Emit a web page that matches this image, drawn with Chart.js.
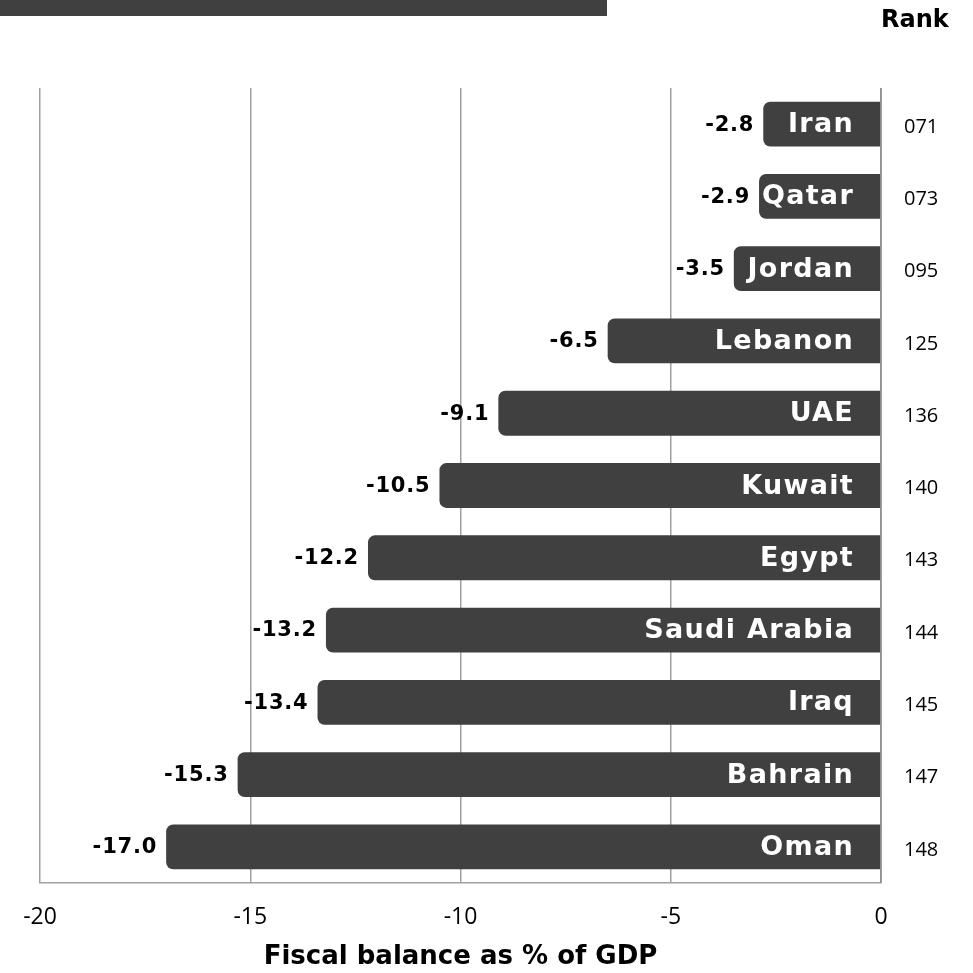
<!DOCTYPE html>
<html>
<head>
<meta charset="utf-8">
<script src="https://cdn.jsdelivr.net/npm/chart.js@4.4.0/dist/chart.umd.min.js"></script>
<style>
  html, body { margin: 0; padding: 0; background: #fff; }
  #wrap { position: relative; width: 973px; height: 973px; }
  #banner { position: absolute; left: 0; top: 0; width: 607px; height: 16px; background: #404040; }
</style>
</head>
<body>
<div id="wrap">
  <canvas id="chart" width="973" height="973"></canvas>
  <div id="banner"></div>
</div>
<script>
const countries = ["Iran", "Qatar", "Jordan", "Lebanon", "UAE", "Kuwait", "Egypt", "Saudi Arabia", "Iraq", "Bahrain", "Oman"];
const balance = [-2.8, -2.9, -3.5, -6.5, -9.1, -10.5, -12.2, -13.2, -13.4, -15.3, -17.0];
const ranks = ["071", "073", "095", "125", "136", "140", "143", "144", "145", "147", "148"];
const xTicks = [-20, -15, -10, -5, 0];

const FONT = '"DejaVu Sans", sans-serif';
const NUMFONT = '"Open Sans", sans-serif';

const labelPlugin = {
  id: "labels",
  afterDatasetsDraw(chart) {
    const ctx = chart.ctx;
    const meta = chart.getDatasetMeta(0);
    const xs = chart.scales.x;
    const zero = xs.getPixelForValue(0);

    // zero line over the bars
    ctx.save();
    ctx.strokeStyle = "#8c8c8c";
    ctx.lineWidth = 1.5;
    ctx.beginPath();
    ctx.moveTo(zero, chart.chartArea.top);
    ctx.lineTo(zero, chart.chartArea.bottom);
    ctx.stroke();

    // "Rank" header
    ctx.fillStyle = "#000";
    ctx.font = "bold 24px " + FONT;
    ctx.textAlign = "left";
    ctx.textBaseline = "alphabetic";
    ctx.fillText("Rank", 881, 27);

    ctx.textBaseline = "middle";
    meta.data.forEach((bar, i) => {
      // value on the left of the bar
      ctx.fillStyle = "#000";
      ctx.font = "bold 21px " + FONT;
      ctx.textAlign = "right";
      ctx.letterSpacing = "0.8px";
      ctx.fillText(balance[i].toFixed(1), bar.x - 9, bar.y + 1);

      // country name inside
      ctx.fillStyle = "#fff";
      ctx.font = "bold 27px " + FONT;
      ctx.letterSpacing = "1.3px";
      ctx.fillText(countries[i], zero - 27, bar.y + 1);

      // rank on the right
      ctx.fillStyle = "#000";
      ctx.font = "20px " + NUMFONT;
      ctx.letterSpacing = "0px";
      ctx.textAlign = "left";
      ctx.fillText(ranks[i], zero + 23, bar.y + 3);
    });
    ctx.restore();
  }
};

new Chart(document.getElementById("chart"), {
  type: "bar",
  data: {
    labels: countries,
    datasets: [{
      data: balance,
      backgroundColor: "#404040",
      borderRadius: 7,
      barPercentage: 0.62,
      categoryPercentage: 1
    }]
  },
  options: {
    indexAxis: "y",
    responsive: false,
    animation: false,
    layout: { padding: { left: 40, right: 92, top: 88, bottom: 0 } },
    plugins: { legend: { display: false }, tooltip: { enabled: false } },
    scales: {
      x: {
        min: -20,
        max: 0,
        afterBuildTicks: (s) => { s.ticks = xTicks.map(v => ({ value: v })); },
        afterFit: (s) => { s.height = 90; },
        grid: { color: "#a0a0a0", lineWidth: 1.5, drawTicks: false },
        border: { color: "#a0a0a0", width: 1.5 },
        ticks: { color: "#000", font: { family: NUMFONT, size: 23 }, padding: 21, maxRotation: 0 },
        title: {
          display: true,
          text: "Fiscal balance as % of GDP",
          color: "#000",
          font: { family: FONT, size: 26, weight: "bold" },
          padding: { top: 1, bottom: 0 }
        }
      },
      y: { display: false }
    }
  },
  plugins: [labelPlugin]
});
</script>
</body>
</html>
